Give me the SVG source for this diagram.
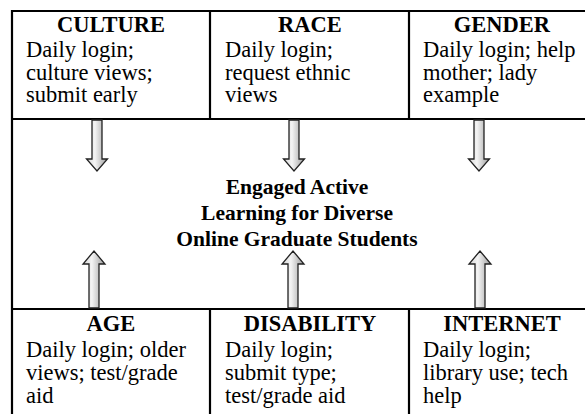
<svg xmlns="http://www.w3.org/2000/svg" width="585" height="414" viewBox="0 0 585 414">
<defs>
<linearGradient id="g" x1="0" y1="0" x2="1" y2="0">
<stop offset="0" stop-color="#d4d4d4"/>
<stop offset="0.4" stop-color="#f4f4f4"/>
<stop offset="1" stop-color="#9c9c9c"/>
</linearGradient>
</defs>
<style>
.h{font-family:"Liberation Serif","Times New Roman",serif;font-weight:bold;font-size:22.5px;text-anchor:middle;fill:#000}
.b{font-family:"Liberation Serif","Times New Roman",serif;font-size:22.5px;fill:#000}
.c{font-family:"Liberation Serif","Times New Roman",serif;font-weight:bold;font-size:21.5px;text-anchor:middle;fill:#000}
.ln{stroke:#000;stroke-width:2.2;fill:none}
.ar{fill:url(#g);stroke:#222;stroke-width:1.3;stroke-linejoin:miter}
</style>
<rect width="585" height="414" fill="#fff"/>
<g id="frame" class="ln">
<line x1="12" y1="11" x2="585" y2="11"/>
<line x1="12" y1="119" x2="585" y2="119"/>
<line x1="12" y1="309" x2="585" y2="309"/>
<line x1="12" y1="10" x2="12" y2="414"/>
<line x1="210" y1="11" x2="210" y2="119"/>
<line x1="409" y1="11" x2="409" y2="119"/>
<line x1="210" y1="309" x2="210" y2="414"/>
<line x1="409" y1="309" x2="409" y2="414"/>
</g>
<g id="culture">
<text class="h" x="111" y="32">CULTURE</text>
<text class="b" x="26" y="57">Daily login;</text>
<text class="b" x="26" y="79.5">culture views;</text>
<text class="b" x="26" y="102">submit early</text>
</g>
<g id="race">
<text class="h" x="310" y="32">RACE</text>
<text class="b" x="225" y="57">Daily login;</text>
<text class="b" x="225" y="79.5">request ethnic</text>
<text class="b" x="225" y="102">views</text>
</g>
<g id="gender">
<text class="h" x="502" y="32">GENDER</text>
<text class="b" x="423" y="57">Daily login; help</text>
<text class="b" x="423" y="79.5">mother; lady</text>
<text class="b" x="423" y="102">example</text>
</g>
<g id="center">
<text class="c" x="297" y="194">Engaged Active</text>
<text class="c" x="297" y="220">Learning for Diverse</text>
<text class="c" x="297" y="246">Online Graduate Students</text>
</g>
<g id="age">
<text class="h" x="111" y="331">AGE</text>
<text class="b" x="26" y="357">Daily login; older</text>
<text class="b" x="26" y="380">views; test/grade</text>
<text class="b" x="26" y="403">aid</text>
</g>
<g id="disability">
<text class="h" x="310" y="331">DISABILITY</text>
<text class="b" x="225" y="357">Daily login;</text>
<text class="b" x="225" y="380">submit type;</text>
<text class="b" x="225" y="403">test/grade aid</text>
</g>
<g id="internet">
<text class="h" x="502" y="331">INTERNET</text>
<text class="b" x="423" y="357">Daily login;</text>
<text class="b" x="423" y="380">library use; tech</text>
<text class="b" x="423" y="403">help</text>
</g>
<g id="connectors">
<polygon class="ar" points="92,120 102,120 102,159 107.5,159 97,171 86.5,159 92,159"/>
<polygon class="ar" points="289,120 299,120 299,159 304.5,159 294,171 283.5,159 289,159"/>
<polygon class="ar" points="474,120 484,120 484,159 489.5,159 479,171 468.5,159 474,159"/>
<polygon class="ar" points="89,308 99,308 99,264 105,264 94,251 83,264 89,264"/>
<polygon class="ar" points="288,308 298,308 298,264 304,264 293,251 282,264 288,264"/>
<polygon class="ar" points="475,308 485,308 485,264 491,264 480,251 469,264 475,264"/>
</g>
</svg>
